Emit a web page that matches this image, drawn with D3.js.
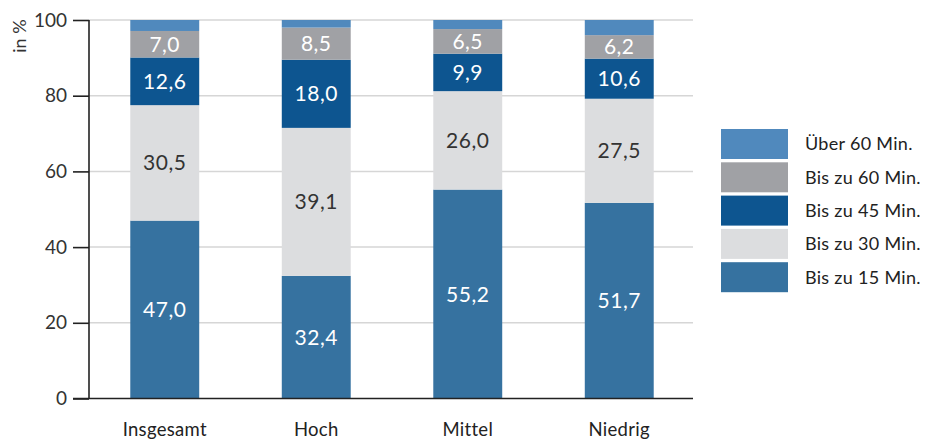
<!DOCTYPE html>
<html>
<head>
<meta charset="utf-8">
<script src="https://cdn.jsdelivr.net/npm/d3@7"></script>
<style>
  html, body { margin: 0; padding: 0; background: #fff; }
  svg { display: block; font-family: "Lato", "Noto Sans", sans-serif; }
</style>
</head>
<body>
<svg id="chart" width="925" height="441"></svg>
<script>
// Categories along the x axis
const categories = ["Insgesamt", "Hoch", "Mittel", "Niedrig"];

// Stacked series, bottom to top (values in %)
const seriesNames = ["Bis zu 15 Min.", "Bis zu 30 Min.", "Bis zu 45 Min.", "Bis zu 60 Min.", "Über 60 Min."];
const bis15 = [47.0, 32.4, 55.2, 51.7];
const bis30 = [30.5, 39.1, 26.0, 27.5];
const bis45 = [12.6, 18.0, 9.9, 10.6];
const bis60 = [7.0, 8.5, 6.5, 6.2];
const ueber60 = [2.9, 2.0, 2.4, 4.0];
const seriesValues = [bis15, bis30, bis45, bis60, ueber60];
const seriesColors = ["#3672a0", "#dcdddf", "#0d5590", "#a0a1a5", "#5089bd"];
const labelColors = ["#ffffff", "#333333", "#ffffff", "#ffffff", null];

const yTicks = [0, 20, 40, 60, 80, 100];

const svg = d3.select("#chart");
const plotLeft = 89, plotRight = 695, plotTop = 20, plotBottom = 398.5;

const x = d3.scaleBand().domain(categories).range([plotLeft, plotRight])
  .paddingInner(0.545).paddingOuter(0.2725);
const y = d3.scaleLinear().domain([0, 100]).range([plotBottom, plotTop]);

// horizontal grid lines
svg.append("g").selectAll("line").data(yTicks.filter(d => d > 0)).join("line")
  .attr("x1", plotLeft).attr("x2", 693)
  .attr("y1", d => y(d)).attr("y2", d => y(d))
  .attr("stroke", "#d6d6d6").attr("stroke-width", 1.5);

// stacked data
const rows = categories.map((c, i) => {
  const r = { cat: c };
  seriesNames.forEach((s, k) => r[s] = seriesValues[k][i]);
  return r;
});
const stack = d3.stack().keys(seriesNames)(rows);

const layers = svg.append("g").selectAll("g").data(stack).join("g")
  .attr("fill", (d, k) => seriesColors[k]);
layers.selectAll("rect").data(d => d).join("rect")
  .attr("x", d => x(d.data.cat))
  .attr("width", x.bandwidth())
  .attr("y", d => y(d[1]))
  .attr("height", d => y(d[0]) - y(d[1]));

// value labels
stack.forEach((layer, k) => {
  if (!labelColors[k]) return;
  svg.append("g").selectAll("text").data(layer).join("text")
    .attr("x", d => x(d.data.cat) + x.bandwidth() / 2)
    .attr("y", d => (y(d[0]) + y(d[1])) / 2)
    .attr("dy", "0.36em")
    .attr("text-anchor", "middle")
    .attr("fill", labelColors[k])
    .attr("font-size", 21)
    .attr("letter-spacing", 0.5)
    .text(d => d3.format(".1f")(d[1] - d[0]).replace(".", ","));
});

// y axis
const yAxis = d3.axisLeft(y).tickValues(yTicks).tickSize(16).tickPadding(6);
const gy = svg.append("g").attr("transform", `translate(${plotLeft},0)`).call(yAxis);
gy.select(".domain").attr("stroke", "#222").attr("stroke-width", 1.6).attr("d", `M0,${plotTop}V${plotBottom}`);
gy.selectAll(".tick line").attr("stroke", "#222").attr("stroke-width", 1.6);
gy.selectAll(".tick text").attr("fill", "#333").attr("font-size", 19)
  .attr("font-family", "Lato, 'Noto Sans', sans-serif");

// baseline
svg.append("line").attr("x1", 73).attr("x2", 693)
  .attr("y1", y(0)).attr("y2", y(0)).attr("stroke", "#222").attr("stroke-width", 1.6);

// category labels
svg.append("g").selectAll("text").data(categories).join("text")
  .attr("x", d => x(d) + x.bandwidth() / 2)
  .attr("y", 436)
  .attr("text-anchor", "middle")
  .attr("fill", "#222").attr("font-size", 18.5)
  .attr("letter-spacing", 0.3)
  .text(d => d);

// y axis title
svg.append("text")
  .attr("transform", "translate(26,36) rotate(-90)")
  .attr("text-anchor", "middle")
  .attr("fill", "#333").attr("font-size", 18)
  .text("in %");

// legend, top to bottom reversed from the stack
const legendItems = seriesNames.map((s, k) => ({ name: s, color: seriesColors[k] })).reverse();
const lg = svg.append("g").selectAll("g").data(legendItems).join("g")
  .attr("transform", (d, i) => `translate(721,${129 + i * 33.3})`);
lg.append("rect").attr("width", 67).attr("height", 30).attr("fill", d => d.color);
lg.append("text").attr("x", 84).attr("y", 15).attr("dy", "0.36em")
  .attr("fill", "#222").attr("font-size", 18).attr("letter-spacing", 0.3).text(d => d.name);
</script>
</body>
</html>
